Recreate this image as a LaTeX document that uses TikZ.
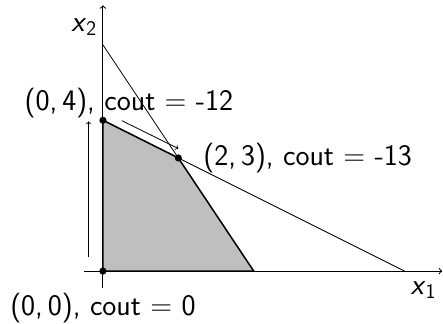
\documentclass[tikz,border=0pt]{standalone}
\usepackage{tikz}
\usetikzlibrary{arrows}

\newcommand{\var}[1]{\textit{x}\textsubscript{#1}}

\begin{document}
\begin{tikzpicture}[font=\sffamily\fontsize{22.5}{27}\selectfont, line width=0.8pt, >=to]
\tikzstyle{axis} = [->, line width=0.8pt]
\tikzstyle{contrainte} = [line width=0.6pt]
\tikzstyle{region} = [fill=gray!50, draw=black, line width=1.1pt]
\tikzstyle{sommet} = [circle, fill=black, inner sep=0pt, minimum size=0.19cm]
\tikzstyle{arrow} = [->, line width=0.6pt]
\tikzstyle{etiquette} = [inner sep=0pt]

\useasboundingbox (-2.73,-1.38) rectangle (9.02,7.19);

% sommets du polyedre
\coordinate (O) at (0,0);
\coordinate (A) at (0,4);
\coordinate (B) at (2,3);
\coordinate (C) at (4,0);
\coordinate (D) at (0,6);
\coordinate (E) at (8,0);

\filldraw [region] (O) -- (A) -- (B) -- (C) -- cycle;
\draw [contrainte] (D) -- (C);
\draw [contrainte] (A) -- (E);

% axes
\coordinate (xmin) at (-0.5,0);
\coordinate (xmax) at (9,0);
\coordinate (ymin) at (0,-0.45);
\coordinate (ymax) at (0,7.05);
\draw [axis] (xmin) -- (xmax);
\draw [axis] (ymin) -- (ymax);
\node (x1) at (8.5,-0.5) {\var{1}};
\node (x2) at (-0.5,6.47) {\var{2}};

% chemin du simplexe
\coordinate (p1) at (-0.38,0.38);
\coordinate (p2) at (-0.38,3.97);
\coordinate (q1) at (0.5,3.99);
\coordinate (q2) at (2,3.25);
\draw [arrow] (p1) -- (p2);
\draw [arrow] (q1) -- (q2);

\node (sO) [sommet] at (O) {};
\node (sA) [sommet] at (A) {};
\node (sB) [sommet] at (B) {};

\node (lA) [etiquette] at (0.69,4.46) {(0,\,4), cout = -12};
\node (lB) [etiquette, anchor=west] at (2.65,3.0) {(2,\,3), cout = -13};
\node (lO) [etiquette, anchor=north] at (0,-0.58) {(0,\,0), cout = 0};
\end{tikzpicture}
\end{document}
